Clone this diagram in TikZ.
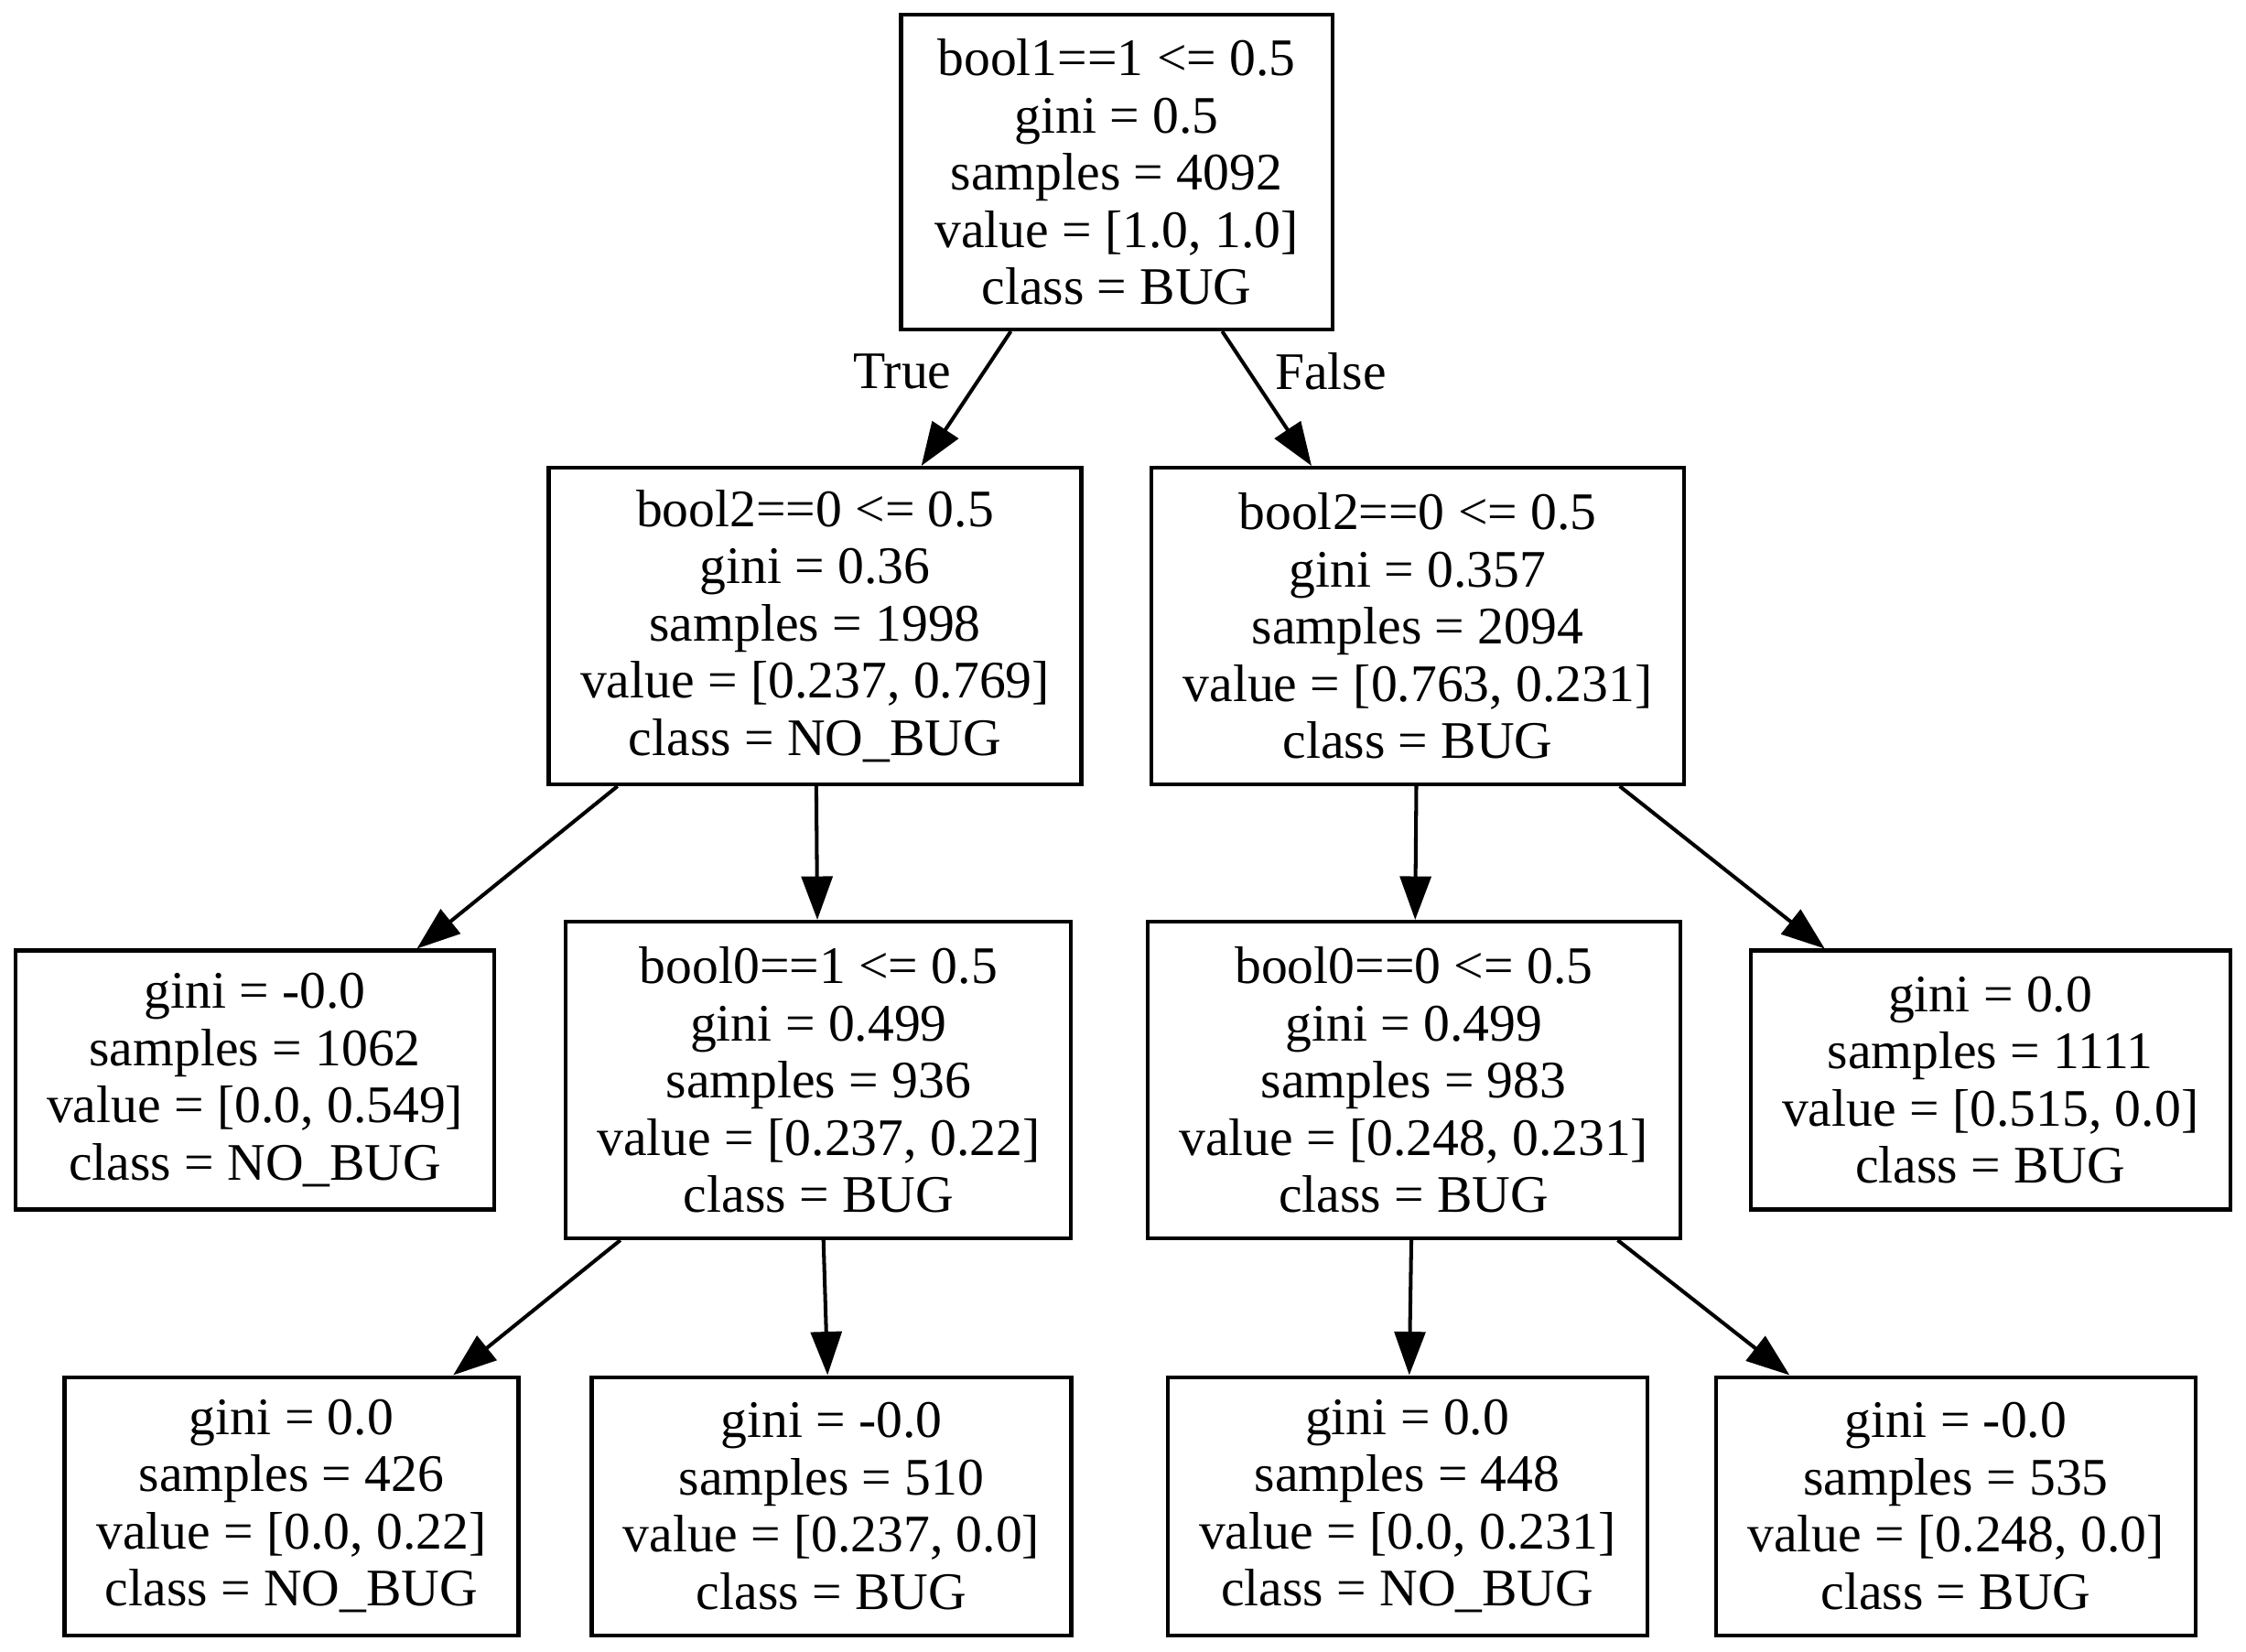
\documentclass[tikz,border=0pt]{standalone}
\usepackage{fontspec}
\setmainfont{Liberation Serif}
\usetikzlibrary{arrows.meta}
\begin{document}
\begin{tikzpicture}[
  every node/.style={font=\fontsize{16.4}{17.8}\selectfont},
  tbox/.style={draw, line width=1.15pt, align=center, inner sep=0pt, minimum height=3.46cm},
  lbox/.style={draw, line width=1.15pt, align=center, inner sep=0pt, minimum height=2.83cm},
  conn/.style={line width=1.15pt, -{Triangle[length=13.5pt,width=9.6pt]}},
  elabel/.style={inner sep=0pt}
]
\useasboundingbox (0,0) rectangle (24.54,-18.04);
\node[tbox, minimum width=4.71cm, minimum height=3.44cm] (root) at (12.20,-1.88)
  {bool1==1 <= 0.5\\gini = 0.5\\samples = 4092\\value = [1.0, 1.0]\\class = BUG};
\node[tbox, minimum width=5.82cm] (n1) at (8.905,-6.84)
  {bool2==0 <= 0.5\\gini = 0.36\\samples = 1998\\value = [0.237, 0.769]\\class = NO\_BUG};
\node[tbox, minimum width=5.82cm] (n2) at (15.49,-6.84)
  {bool2==0 <= 0.5\\gini = 0.357\\samples = 2094\\value = [0.763, 0.231]\\class = BUG};
\node[lbox, minimum width=5.23cm] (n3) at (2.786,-11.80)
  {gini = -0.0\\samples = 1062\\value = [0.0, 0.549]\\class = NO\_BUG};
\node[tbox, minimum width=5.52cm] (n4) at (8.944,-11.80)
  {bool0==1 <= 0.5\\gini = 0.499\\samples = 936\\value = [0.237, 0.22]\\class = BUG};
\node[tbox, minimum width=5.82cm] (n5) at (15.447,-11.80)
  {bool0==0 <= 0.5\\gini = 0.499\\samples = 983\\value = [0.248, 0.231]\\class = BUG};
\node[lbox, minimum width=5.24cm] (n6) at (21.746,-11.80)
  {gini = 0.0\\samples = 1111\\value = [0.515, 0.0]\\class = BUG};
\node[lbox, minimum width=4.96cm, minimum height=2.82cm] (n7) at (3.185,-16.455)
  {gini = 0.0\\samples = 426\\value = [0.0, 0.22]\\class = NO\_BUG};
\node[lbox, minimum width=5.24cm, minimum height=2.82cm] (n8) at (9.085,-16.455)
  {gini = -0.0\\samples = 510\\value = [0.237, 0.0]\\class = BUG};
\node[lbox, minimum width=5.24cm, minimum height=2.82cm] (n9) at (15.376,-16.455)
  {gini = 0.0\\samples = 448\\value = [0.0, 0.231]\\class = NO\_BUG};
\node[lbox, minimum width=5.24cm, minimum height=2.82cm] (n10) at (21.37,-16.455)
  {gini = -0.0\\samples = 535\\value = [0.248, 0.0]\\class = BUG};
\draw[conn] (root) -- (n1);
\draw[conn] (root) -- (n2);
\draw[conn] (n1) -- (n3);
\draw[conn] (n1) -- (n4);
\draw[conn] (n2) -- (n5);
\draw[conn] (n2) -- (n6);
\draw[conn] (n4) -- (n7);
\draw[conn] (n4) -- (n8);
\draw[conn] (n5) -- (n9);
\draw[conn] (n5) -- (n10);
\node[elabel] (lt) at (9.86,-4.06) {True};
\node[elabel] (lf) at (14.54,-4.06) {False};
\end{tikzpicture}
\end{document}
